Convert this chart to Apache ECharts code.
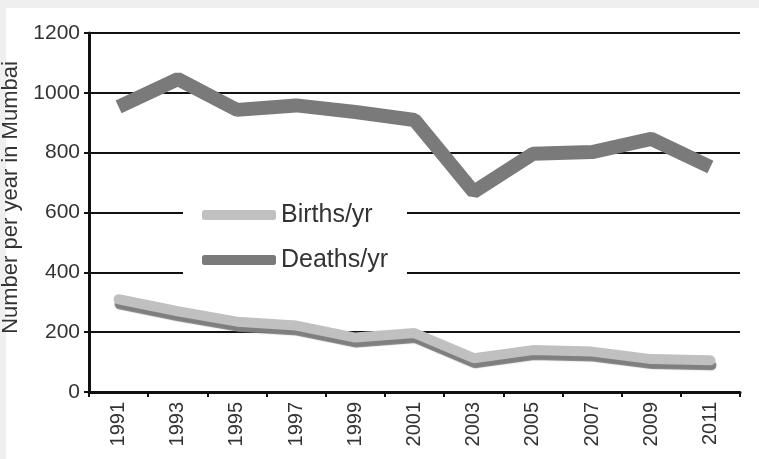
<!DOCTYPE html>
<html>
<head>
<meta charset="utf-8">
<script src="https://cdn.jsdelivr.net/npm/echarts@6/dist/echarts.min.js"></script>
<style>
  html, body { margin: 0; padding: 0; background: #efefef; }
  #chart { width: 759px; height: 459px; }
</style>
</head>
<body>
<div id="chart"></div>
<script>
var years = ['1991', '1993', '1995', '1997', '1999', '2001', '2003', '2005', '2007', '2009', '2011'];
var births = [310, 270, 235, 222, 182, 197, 113, 140, 135, 110, 106];
var deaths = [953, 1046, 943, 958, 936, 909, 669, 796, 802, 846, 752];

var font = "'Liberation Sans', Arial, sans-serif";
var chart = echarts.init(document.getElementById('chart'));

var options = {
  backgroundColor: '#efefef',
  animation: false,
  graphic: [
    { type: 'rect', left: 6, top: 8, shape: { width: 753, height: 451 }, style: { fill: '#ffffff' }, z: -10 }
  ],
  grid: { left: 89, right: 19, top: 33, bottom: 67, containLabel: false, outerBoundsMode: 'none' },
  legend: {
    orient: 'vertical',
    left: 183,
    top: 196,
    padding: [6, 19, 8, 19],
    backgroundColor: '#ffffff',
    itemWidth: 74,
    itemHeight: 10,
    itemGap: 19,
    textStyle: { fontFamily: font, fontSize: 25, color: '#333', lineHeight: 26 },
    data: [
      { name: 'Births/yr', icon: 'roundRect', itemStyle: { color: '#c0c0c0' } },
      { name: 'Deaths/yr', icon: 'roundRect', itemStyle: { color: '#7a7a7a' } }
    ],
    z: 5
  },
  xAxis: {
    type: 'category',
    data: years,
    boundaryGap: true,
    axisLine: { lineStyle: { color: '#111', width: 3 } },
    axisTick: { show: true, length: 5, lineStyle: { color: '#111', width: 2 } },
    axisLabel: { rotate: 90, fontFamily: font, fontSize: 20, color: '#333', margin: 10, interval: 0 },
    splitLine: { show: false }
  },
  yAxis: {
    type: 'value',
    min: 0,
    max: 1200,
    interval: 200,
    name: 'Number per year in Mumbai',
    nameLocation: 'middle',
    nameRotate: 90,
    nameGap: 53,
    nameTextStyle: { fontFamily: font, fontSize: 22, color: '#333', padding: [0, 0, 0, 30] },
    axisLine: { show: true, lineStyle: { color: '#111', width: 3 } },
    axisTick: { show: true, length: 5, lineStyle: { color: '#111', width: 2 } },
    axisLabel: { fontFamily: font, fontSize: 21, color: '#333', margin: 9, formatter: function (v) { return String(v); } },
    splitLine: { lineStyle: { color: '#111', width: 2 } }
  },
  series: [
    {
      name: 'Births/yr',
      type: 'line',
      data: births,
      symbol: 'none',
      color: '#c0c0c0',
      lineStyle: {
        width: 10,
        color: '#c0c0c0',
        cap: 'round',
        shadowColor: '#7f7f7f',
        shadowBlur: 1,
        shadowOffsetX: 1,
        shadowOffsetY: 5
      },
      z: 3
    },
    {
      name: 'Deaths/yr',
      type: 'line',
      data: deaths,
      symbol: 'none',
      color: '#7a7a7a',
      lineStyle: { width: 14, color: '#7a7a7a' },
      z: 3
    }
  ]
};
chart.setOption(options);
window.addEventListener('resize', function () { chart.resize(); });
</script>
</body>
</html>
